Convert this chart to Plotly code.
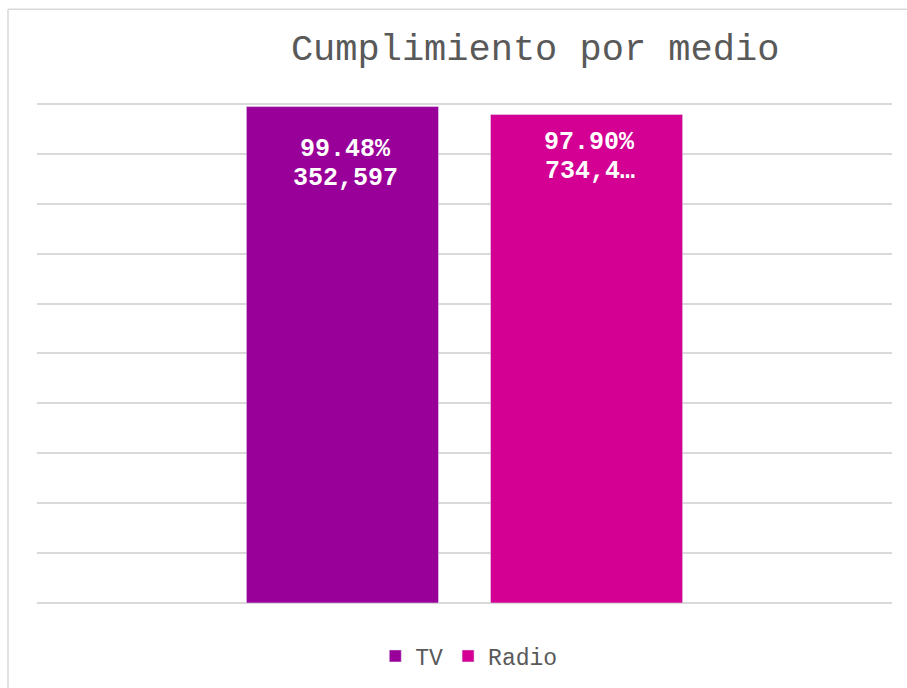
import plotly.graph_objects as go

categories = ["Cumplimiento"]
series_names = ["TV", "Radio"]
pct_values = [99.48, 97.90]
label_pct = ["99.48%", "97.90%"]
label_count = ["352,597", "734,4…"]
colors = ["#990099", "#D40093"]

# style: per-bar label placement (pixels below bar end) and horizontal group offsets
label_offsets = [43, 28]
group_shift = [-122, 122]

MONO = "Liberation Mono, Courier New, monospace"

fig = go.Figure()
annotations = []
for name, v, lp, lc, c, off, xs in zip(series_names, pct_values, label_pct, label_count,
                                         colors, label_offsets, group_shift):
    fig.add_trace(go.Bar(name=name, x=categories, y=[v], marker_color=c))
    for i, t in enumerate([lp, lc]):
        annotations.append(dict(
            x=categories[0], y=v, xref="x", yref="y", text=t, showarrow=False,
            xshift=xs + 3, yshift=-(off + 29 * i), yanchor="middle", xanchor="center",
            font=dict(family=MONO, size=25, color="white", weight="bold"),
        ))

H_PLOT = 510
fig.update_layout(
    width=907, height=688,
    margin=dict(l=37, r=15, t=94, b=84),
    paper_bgcolor="white", plot_bgcolor="white",
    barmode="group", bargap=0.429, bargroupgap=0.213,
    title=dict(text="Cumplimiento por medio", x=0.59, xref="container", xanchor="center",
               y=1 - 47 / 688, yref="container", yanchor="middle",
               font=dict(family=MONO, size=37, color="#595959")),
    showlegend=True,
    legend=dict(orientation="h", x=0.505, xanchor="center", y=-(656 - 604) / H_PLOT,
                yanchor="middle",
                font=dict(family=MONO, size=23, color="#595959"),
                itemwidth=30, tracegroupgap=0),
    xaxis=dict(visible=False),
    yaxis=dict(range=[0, 102], tick0=0, dtick=10, showgrid=True, gridcolor="#d9d9d9",
               gridwidth=1.5, showticklabels=False, zeroline=True, zerolinecolor="#d9d9d9",
               zerolinewidth=1.5, showline=False, ticks=""),
    annotations=annotations,
    shapes=[
        dict(type="line", xref="paper", yref="paper", x0=-29 / 855, x1=870 / 855,
             y0=(604 - 9) / H_PLOT, y1=(604 - 9) / H_PLOT, line=dict(color="#d9d9d9", width=1.5)),
        dict(type="line", xref="paper", yref="paper", x0=-29 / 855, x1=-29 / 855,
             y0=(604 - 9) / H_PLOT, y1=(604 - 700) / H_PLOT, line=dict(color="#d9d9d9", width=1.5)),
    ],
)

fig.write_html("out.html", config={"displayModeBar": False},
               post_script="document.body.style.margin='0';document.body.style.overflow='hidden';")
